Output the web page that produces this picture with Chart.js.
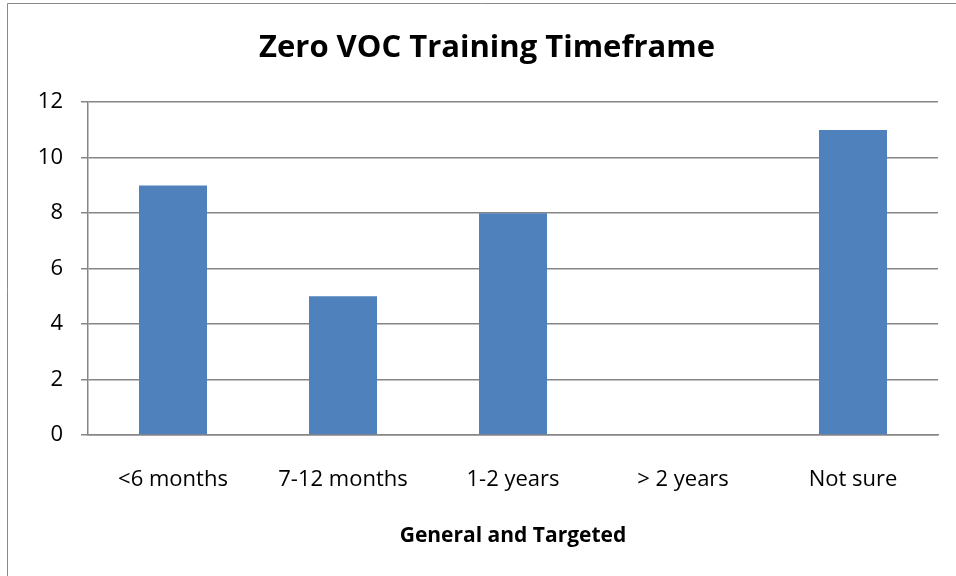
<!DOCTYPE html>
<html>
<head>
<meta charset="utf-8">
<script src="https://cdn.jsdelivr.net/npm/chart.js@4/dist/chart.umd.min.js"></script>
<style>
  html, body { margin: 0; padding: 0; background: #fff; }
  #wrap { width: 956px; height: 576px; position: relative; }
</style>
</head>
<body>
<div id="wrap"><canvas id="chart" width="956" height="576"></canvas></div>
<script>
const chartTitle = 'Zero VOC Training Timeframe'
const axisTitle = 'General and Targeted'
const categories = ['<6 months', '7-12 months', '1-2 years', '> 2 years', 'Not sure']
const counts = [9, 5, 8, 0, 11]
const yTicks = [0, 2, 4, 6, 8, 10, 12]

const fontFamily = '"Open Sans", "Liberation Sans", sans-serif'
const gridColor = '#868686'

// thin frame on the left and top edges of the chart object
const framePlugin = {
    id: 'frame',
    afterDraw(chart) {
        const ctx = chart.ctx
        ctx.save()
        ctx.strokeStyle = '#8a8a8a'
        ctx.lineWidth = 1
        ctx.beginPath()
        ctx.moveTo(7.5, 576)
        ctx.lineTo(7.5, 3.5)
        ctx.lineTo(956, 3.5)
        ctx.stroke()
        ctx.restore()
    }
}

new Chart(document.getElementById('chart'), {
    type: 'bar',
    data: {
        labels: categories,
        datasets: [{
            data: counts,
            backgroundColor: '#4F81BD',
            borderWidth: 0,
            categoryPercentage: 1,
            barPercentage: 0.4
        }]
    },
    options: {
        responsive: false,
        animation: false,
        layout: { padding: { left: 18, right: 0, top: 0, bottom: 0 } },
        plugins: {
            legend: { display: false },
            tooltip: { enabled: false },
            title: {
                display: true,
                text: chartTitle,
                color: '#000',
                font: { family: fontFamily, size: 31, weight: 'bold' },
                padding: { top: 30, bottom: 35 }
            }
        },
        scales: {
            x: {
                grid: { display: false },
                border: { display: true, color: gridColor, width: 1.5 },
                ticks: {
                    color: '#000',
                    font: { family: fontFamily, size: 22 },
                    padding: 24,
                    maxRotation: 0
                },
                title: {
                    display: true,
                    text: axisTitle,
                    color: '#000',
                    font: { family: fontFamily, size: 21, weight: 'bold' },
                    padding: { top: 0, bottom: 27 }
                },
                afterFit(scale) { scale.height = 141 }
            },
            y: {
                min: 0,
                max: 12,
                afterBuildTicks(scale) { scale.ticks = yTicks.map(v => ({ value: v })) },
                grid: { color: gridColor, lineWidth: 1.5, tickLength: 7 },
                border: { display: true, color: gridColor, width: 1.5 },
                ticks: {
                    color: '#000',
                    font: { family: fontFamily, size: 22 },
                    padding: 18
                },
                afterFit(scale) { scale.width = 70 }
            },
            // empty strip keeping the plot clear of the right edge
            gutter: {
                position: 'right',
                grid: { display: false },
                border: { display: false },
                ticks: { display: false },
                afterFit(scale) { scale.width = 18 }
            }
        }
    },
    plugins: [framePlugin]
})
</script>
</body>
</html>
